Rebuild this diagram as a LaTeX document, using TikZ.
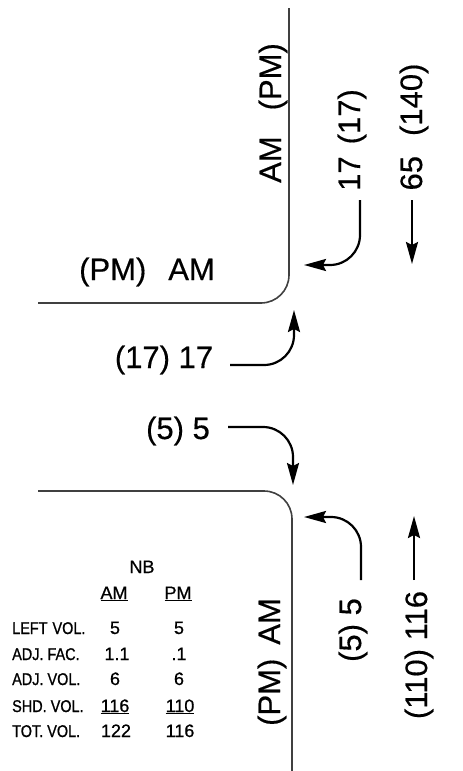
\documentclass[tikz,border=0pt]{standalone}
\usepackage{fontspec}
\setmainfont[FakeBold=0.4]{Liberation Sans}
\newfontfamily\narrowfont[FakeStretch=0.85,FakeBold=0.9]{Liberation Sans}
\newfontfamily\tablefont[FakeBold=0.7]{Liberation Sans}
\usetikzlibrary{arrows.meta}
\begin{document}
\begin{tikzpicture}[x=1pt,y=-1pt,
  road/.style={line width=1.6pt, draw=black!75, rounded corners=28pt},
  tip/.style={-{Stealth[length=22pt,width=12pt,inset=3pt]}},
  flow/.style={line width=2.2pt, tip, rounded corners=30pt},
  flowstraight/.style={line width=2.2pt, tip},
  big/.style={font=\fontsize{31}{33}\selectfont, inner sep=0pt},
  rowlbl/.style={font=\narrowfont\fontsize{17}{19}\selectfont, anchor=base west, inner sep=0pt},
  num/.style={font=\tablefont\fontsize{18}{20}\selectfont, anchor=base, inner sep=0pt}]
\useasboundingbox (0,0) rectangle (463,771);

% roads
\draw[road] (289,8) |- (38,303);
\draw[road] (38,491) -| (292,771);

% approach labels
\node[big, rotate=90] (nAM) at (273,113) {AM\hspace{26pt}(PM)};
\node[big] (wAM) at (147,272) {(PM)\hspace{22pt}AM};
\node[big, rotate=90] (sAM) at (272,662) {(PM)\hspace{14pt}AM};

% turning volumes
\node[big, rotate=90] (n17) at (352,140) {17\hspace{12pt}(17)};
\node[big, rotate=90] (n65) at (414,127) {65\hspace{20pt}(140)};
\node[big] (w17) at (164,360) {(17) 17};
\node[big] (w5) at (178,431) {(5) 5};
\node[big, rotate=90] (s5) at (353,630) {(5) 5};
\node[big, rotate=90] (s116) at (419,655) {(110) 116};

% flow arrows
\coordinate (n17a) at (360,200);  \coordinate (n17b) at (304,265);
\coordinate (n65a) at (412,200);  \coordinate (n65b) at (412,264);
\coordinate (w17a) at (230,365);  \coordinate (w17b) at (294,310);
\coordinate (w5a)  at (228,427);  \coordinate (w5b)  at (293,485);
\coordinate (s5a)  at (361,580);  \coordinate (s5b)  at (304,517);
\coordinate (s116a) at (414,580); \coordinate (s116b) at (414,516);
\draw[flow] (n17a) |- (n17b);
\draw[flowstraight] (n65a) -- (n65b);
\draw[flow] (w17a) -| (w17b);
\draw[flow] (w5a) -| (w5b);
\draw[flow] (s5a) |- (s5b);
\draw[flowstraight] (s116a) -- (s116b);

% volume table
\node[num] (nb) at (142,573) {NB};
\node[num] (hAM) at (114,599) {\underline{AM}};
\node[num] (hPM) at (178,599) {\underline{PM}};
\node[rowlbl] (r1) at (12,634) {LEFT\hspace{5pt}VOL.};
\node[rowlbl] (r2) at (12,660) {ADJ. FAC.};
\node[rowlbl] (r3) at (12,685) {ADJ. VOL.};
\node[rowlbl] (r4) at (12,712) {SHD. VOL.};
\node[rowlbl] (r5) at (12,737) {TOT. VOL.};
\node[num] (a1) at (115,634) {5};
\node[num] (a2) at (117,660) {1.1};
\node[num] (a3) at (115,685) {6};
\node[num] (a4) at (115,712) {\underline{116}};
\node[num] (a5) at (116,737) {122};
\node[num] (p1) at (179,634) {5};
\node[num] (p2) at (179,660) {.1};
\node[num] (p3) at (179,685) {6};
\node[num] (p4) at (180,712) {\underline{110}};
\node[num] (p5) at (180,737) {116};
\end{tikzpicture}
\end{document}
